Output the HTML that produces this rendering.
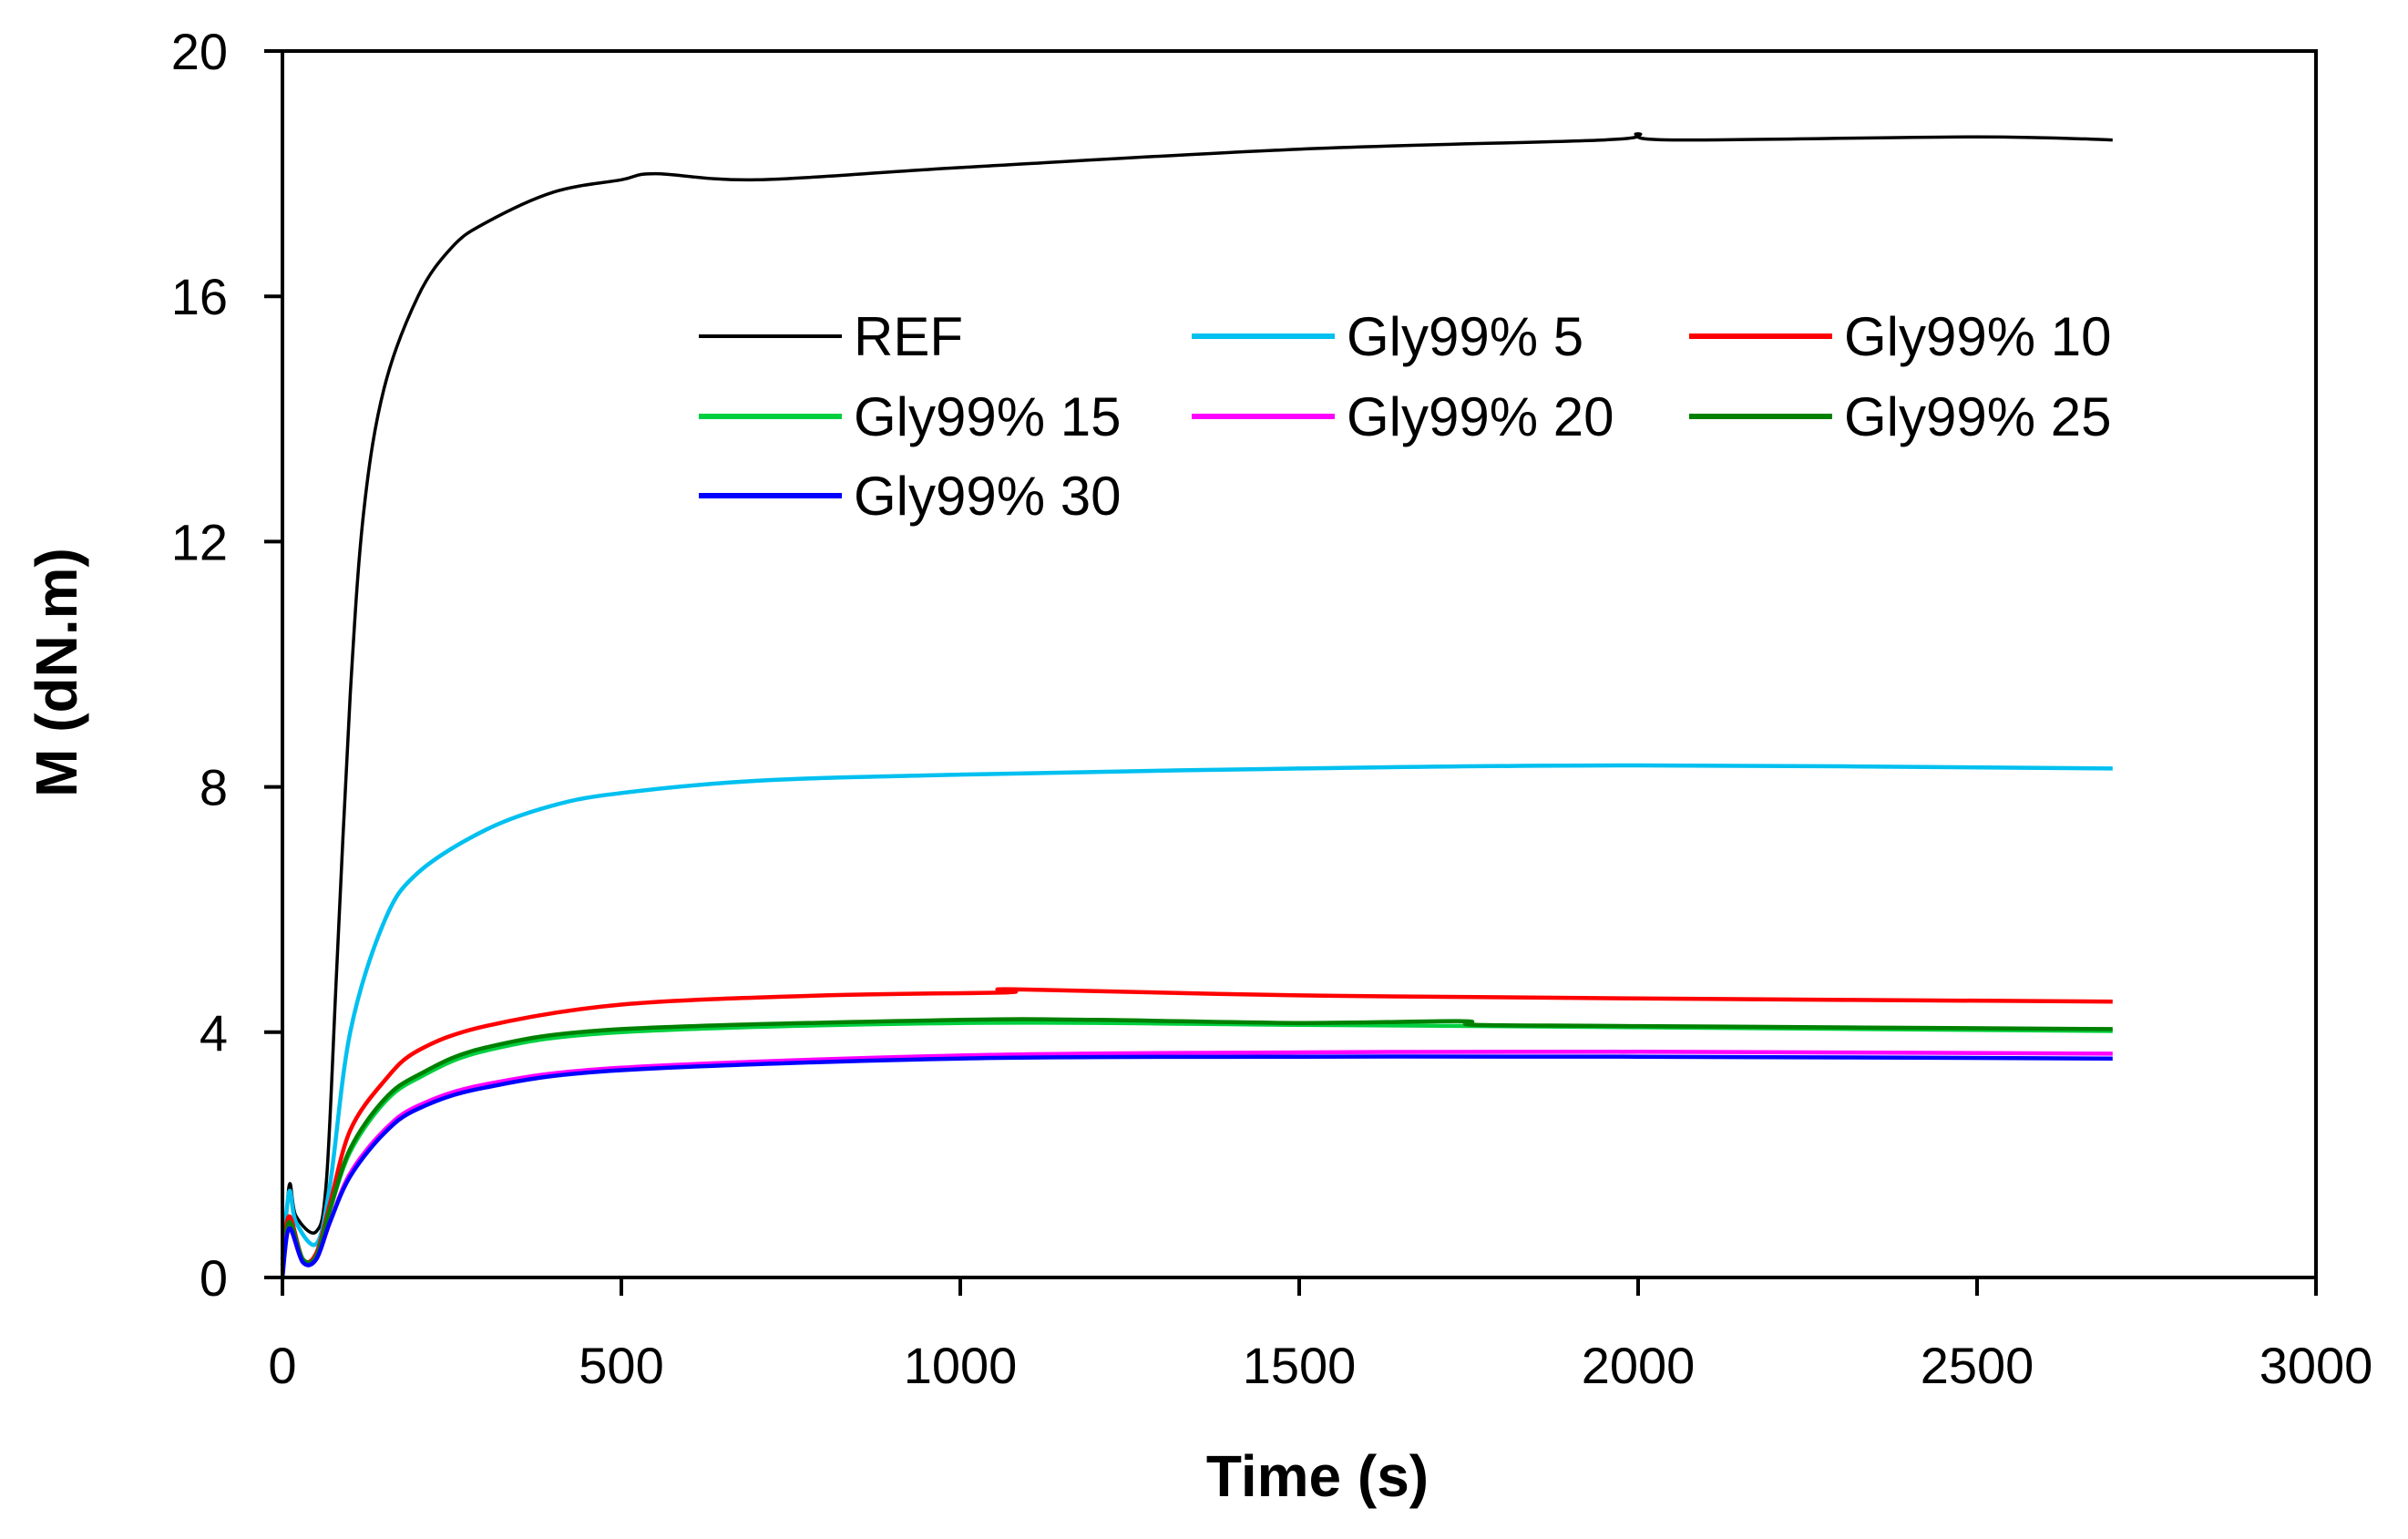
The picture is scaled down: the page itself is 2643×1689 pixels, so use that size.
<!DOCTYPE html>
<html><head><meta charset="utf-8"><style>
html,body{margin:0;padding:0;background:#fff;}
svg{display:block;font-family:"Liberation Sans",sans-serif;}
</style></head><body>
<svg id="chart" width="2643" height="1689" viewBox="0 0 2643 1689" xmlns="http://www.w3.org/2000/svg">
<rect width="2643" height="1689" fill="#fff"/>
<g id="series"></g>
<g id="axes"></g>
<g id="legend"></g>
<text x="1446" y="1642" font-size="64" font-weight="bold" text-anchor="middle">Time (s)</text>
<text transform="translate(84,738) rotate(-90)" font-size="64" font-weight="bold" text-anchor="middle">M (dN.m)</text>
</svg>
<script>
const xTicks=[0,500,1000,1500,2000,2500,3000];
const yTicks=[0,4,8,12,16,20];
const seriesNames=["REF","Gly99% 5","Gly99% 10","Gly99% 15","Gly99% 20","Gly99% 25","Gly99% 30"];
const seriesColors=["#000000","#00c0f0","#ff0000","#00d040","#ff00ff","#008000","#0000ff"];
const tREF=[0,10,20,50,65,80,100,120,150,200,250,300,400,500,550,700,1000,1500,1950,2000,2050,2500,2700];
const vREF=[0,1.5,1.0,0.75,1.6,5,9.5,12.5,14.5,16,16.8,17.2,17.7,17.9,18.0,17.9,18.1,18.4,18.55,18.65,18.55,18.6,18.55];
const tG5=[0,10,20,50,70,100,150,200,300,400,500,700,1000,1500,2000,2700];
const vG5=[0.3,1.4,0.9,0.55,1.5,4,5.8,6.6,7.3,7.7,7.9,8.1,8.2,8.3,8.35,8.3];
const tG10=[0,10,30,50,70,100,150,200,300,500,800,1070,1080,1500,2000,2700];
const vG10=[0.3,1.0,0.3,0.4,1.2,2.4,3.2,3.7,4.1,4.45,4.6,4.65,4.7,4.6,4.55,4.5];
const tG15=[0,10,30,50,70,100,150,200,300,500,1000,1500,2000,2700];
const vG15=[0.2,0.9,0.3,0.35,1.1,2.05,2.85,3.25,3.7,4.0,4.15,4.12,4.08,4.02];
const tG20=[0,10,30,50,70,100,150,200,300,500,1000,1500,2000,2700];
const vG20=[0.1,0.8,0.25,0.3,0.9,1.7,2.4,2.8,3.15,3.42,3.62,3.67,3.68,3.65];
const tG25=[0,10,30,50,70,100,150,200,300,500,1000,1200,1500,1740,1760,2000,2700];
const vG25=[0.2,0.9,0.3,0.35,1.1,2.1,2.9,3.3,3.75,4.05,4.2,4.2,4.15,4.18,4.12,4.1,4.05];
const tG30=[0,10,30,50,70,100,150,200,300,500,1000,1500,2000,2700];
const vG30=[0,0.8,0.25,0.3,0.9,1.65,2.35,2.75,3.1,3.38,3.57,3.6,3.6,3.57];
const seriesT=[tREF,tG5,tG10,tG15,tG20,tG25,tG30];
const seriesV=[vREF,vG5,vG10,vG15,vG20,vG25,vG30];
const drawOrder=[0,1,2,3,5,4,6];

const NS="http://www.w3.org/2000/svg";
const L=310,R=2542,T=56,B=1402;
const xS=t=>L+(t-0)/(3000-0)*(R-L);
const yS=v=>B-(v-0)/(20-0)*(B-T);
function mk(tag,attrs,parent){const e=document.createElementNS(NS,tag);for(const k in attrs)e.setAttribute(k,attrs[k]);parent.appendChild(e);return e;}
function smooth(pts){
  let d='M'+pts[0][0].toFixed(1)+','+pts[0][1].toFixed(1);
  for(let i=0;i<pts.length-1;i++){
    const p0=pts[Math.max(0,i-1)],p1=pts[i],p2=pts[i+1],p3=pts[Math.min(pts.length-1,i+2)];
    const k=1/6;
    const c1=[p1[0]+(p2[0]-p0[0])*k,p1[1]+(p2[1]-p0[1])*k];
    const c2=[p2[0]-(p3[0]-p1[0])*k,p2[1]-(p3[1]-p1[1])*k];
    d+=' C'+c1[0].toFixed(1)+','+c1[1].toFixed(1)+' '+c2[0].toFixed(1)+','+c2[1].toFixed(1)+' '+p2[0].toFixed(1)+','+p2[1].toFixed(1);
  }
  return d;
}
const axes=document.getElementById('axes');
const frame=mk('rect',{x:L,y:T,width:R-L,height:B-T,fill:'none',stroke:'#000','stroke-width':4},axes);


xTicks.forEach(v=>{
  const tk=mk('line',{x1:xS(v),x2:xS(v),y1:B,y2:B+20,stroke:'#000','stroke-width':4},axes);
  
  
  const tx=mk('text',{x:xS(v),y:1518,'font-size':56,'text-anchor':'middle'},axes);
  tx.textContent=v;
  
  
});
yTicks.forEach(v=>{
  const tk=mk('line',{x1:L-20,x2:L,y1:yS(v),y2:yS(v),stroke:'#000','stroke-width':4},axes);
  
  
  const tx=mk('text',{x:250,y:yS(v)+20,'font-size':56,'text-anchor':'end'},axes);
  tx.textContent=v;
  
  
});
const sg=document.getElementById('series');
drawOrder.forEach(i=>{
  const pts=seriesT[i].map((t,j)=>[xS(t),yS(seriesV[i][j])]);
  const p=mk('path',{d:smooth(pts),fill:'none',stroke:seriesColors[i],'stroke-width':i==0?3.5:4.5,'stroke-linejoin':'round'},sg);
  
  
});
const lg=document.getElementById('legend');
const colX=[767,1308,1854],rowY=[369,457,544];
seriesNames.forEach((n,i)=>{
  const cx=colX[i%3],cy=rowY[Math.floor(i/3)];
  const ln=mk('line',{x1:cx,x2:cx+157,y1:cy,y2:cy,stroke:seriesColors[i],'stroke-width':i==0?4:6},lg);
  
  
  const tx=mk('text',{x:cx+170,y:cy+21,'font-size':60},lg);
  tx.textContent=n;
  
  
});
</script>
</body></html>
